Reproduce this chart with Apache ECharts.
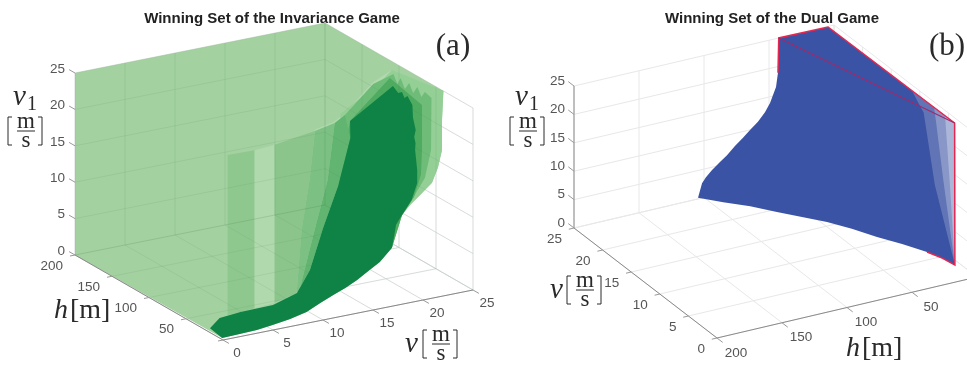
<!DOCTYPE html>
<html>
<head>
<meta charset="utf-8">
<style>html,body{margin:0;padding:0;background:#fff}#chart{width:967px;height:369px}</style>
<script src="https://cdn.jsdelivr.net/npm/echarts@6/dist/echarts.min.js"></script>
</head>
<body>
<div id="chart"></div>
<script>
// all points are [v, h, v1]
const vTicks = [0, 5, 10, 15, 20, 25]
const hTicks = [0, 50, 100, 150, 200]
const v1Ticks = [0, 5, 10, 15, 20, 25]

// (a) invariance game
const wallCurveA = [[25,40,25],[25,41.9,20.9],[25,41.9,16.8],[25,47.3,14.1],[25,55.4,11.5],[25,68.9,9.3],[25,85.1,6.7],[25,95.9,4.7],[25,104,2.9],[25,106.8,1],[24.4,101.6,0]]
const groundCurveA = [[21.7,81.3,0],[19.7,69.8,0],[17.7,57.9,0],[15.8,48.2,0],[14,40.1,0],[12,30.7,0],[9.8,19.5,0],[7.7,13.3,0],[5.6,8.7,0],[3.8,5.6,0],[2,4.5,0],[0.2,3.8,0]]
const backCornersA = [[0,200,0],[0,200,25],[25,200,25]]
const arcA = [[10.3,15,25],[12.8,22,25],[14.6,32.5,25],[20.7,76.8,25],[23.6,91.4,25]]
const darkEdgeA = [[0,17.6,0.6],[0.7,14,2],[2.1,4.8,3],[5.4,5.5,3],[7.8,5.4,4],[8.9,2.8,7],[10.6,8,12],[12.6,14.3,17],[15.8,41.4,21],[14.2,20.2,25],[21.9,66.3,25],[21.4,52.4,25],[21.8,52.7,25],[21.2,41.2,25],[21.7,44,25],[20.9,26.5,25],[22.1,41.9,22],[22.6,45,20],[21.6,33.5,20],[20.9,22.3,20],[22.8,48.5,17],[23.2,51.1,14],[23.4,53.8,12],[23.6,64,9],[25,95.9,4.7],[25,104,2.9],[25,106.8,1],[24.4,101.6,0]]
const stripe1A = [[1.2,10,24.5],[3.9,10,24.4],[3.9,10,2.7],[1.2,10,2.5]]
const stripeGapA = [[3.9,10,24.4],[5.9,10,24.6],[5.9,10,2.9],[3.9,10,2.7]]
const stripe2A = [[5.9,10,24.6],[10.3,15,25],[9.4,10,18.8],[8.6,10,12.2],[8.1,10,3.6],[5.9,10,2.9]]
const bandLeftA = [[10.3,15,25],[12.8,22,25],[11.2,10,18.3],[9.9,10,11.8],[8.4,10,4],[8.1,10,3.6],[8.6,10,12.2],[9.4,10,18.8]]
const bandNextA = [[12.8,22,25],[14.6,32.5,25],[15.8,41.4,21],[12.6,14.3,17],[10.6,8,12],[8.9,2.8,7],[7.8,5.4,4],[8.4,10,4],[9.9,10,11.8],[11.2,10,18.3]]
const bandOuterA = [[21.5,77.8,25],[23.9,94.6,25],...wallCurveA,[12.6,14.3,17],[14.4,36,25]]
const bandMidA = [[20.7,76.8,25],[23.5,87.3,25],[22.5,68.4,25],[23.5,77.5,25],[22.4,56.9,25],[23.5,66,25],[22.5,47.1,25],[23.6,56.2,25],[22.6,37.3,25],[23.5,44.7,25],[23.2,31.8,25],[24,43.2,17],[24,51.4,12.7],[24,69,8.6],[25,95.9,4.7],[24.4,101.6,0],[12.6,14.3,17],[14.6,32.5,25]]
const bandInnerA = [[22.7,81.3,25],[21.6,23,25],[24,55.4,16.3],[24,56.8,12.8],[24,66.2,9.2],[25,95.9,4.7],[24.4,101.6,0],[12.6,14.3,17],[14.2,20.2,25]]

// (b) dual game
const topB = [[25,42.5,25],[24.9,5,25],[3,4,25]]
const groundCurveB = [[3,3.8,0],[4.7,6.1,0],[6.4,10.3,0],[8.8,18.9,0],[11.05,28.3,0],[13.5,36.9,0],[15.7,46.3,0],[17.6,57.2,0],[19.5,68.1,0],[21.6,79.4,0],[23.4,92.2,0],[25,104.6,0.2]]
const wallCurveB = [[25,101.5,2.6],[25,98.5,3.5],[25,93.8,4.5],[25,87.7,5.6],[25,82.3,6.5],[25,76.2,7.8],[25,70,8.9],[25,64.6,10],[25,58.5,11.1],[25,53.1,12.5],[25,49.2,13.9],[25,44.6,16.5],[25,43.1,18.9]]
const fan1B = [[10.3,4.6,25],[3,4,25],[3,3.8,0],[5.9,6.5,12],[9,1.4,22]]
const fan2B = [[6.6,3.9,25],[3,4,25],[3,3.8,0],[5.5,1.2,12]]
const fan3B = [[4.8,3.5,25],[3,4,25],[3,3.8,0],[3.3,6.3,14]]
const redEdgeB = [[25,43.1,18.9],[25,42.5,25],[24.9,5,25],[3,4,25],[3,3.8,0],[4.7,6.1,0],[6.4,10.3,0]]
const redDiagB = [[25,42.5,25],[3,4,25]]

const projA = ([v, h, w]) => [223 + 10 * v - 0.74 * h, 340 - 2 * v - 0.425 * h - 7.28 * w]
const projB = ([v, h, w]) => [977 - 5.72 * v - 1.3 * h, 277 - 4.4 * v + 0.305 * h - 5.68 * w]

const base = { type: 'custom', coordinateSystem: 'cartesian2d', data: [0], silent: true, animation: false, clip: false }

function poly(proj, pts, fill) {
    return { ...base, renderItem: (p, api) => ({
        type: 'polygon',
        shape: { points: pts.map(q => api.coord(proj(q))) },
        style: { fill: fill }
    }) }
}

function lines(proj, list, color, lw) {
    return { ...base, renderItem: (p, api) => ({
        type: 'group',
        children: list.map(pts => ({
            type: 'polyline',
            shape: { points: pts.map(q => api.coord(proj(q))) },
            style: { fill: null, stroke: color, lineWidth: lw }
        }))
    }) }
}

function labels(proj, list, dx, dy, align) {
    return { ...base, renderItem: (p, api) => ({
        type: 'group',
        children: list.map(l => {
            const c = api.coord(proj(l.at))
            return { type: 'text', style: { text: String(l.text), x: c[0] + dx, y: c[1] + dy, align: align, verticalAlign: 'middle',
                font: '13.5px "Liberation Sans"', fill: '#555' } }
        })
    }) }
}

// box grids
const gridA = [
    ...v1Ticks.map(w => [[0,200,w],[25,200,w],[25,0,w]]),
    ...vTicks.map(v => [[v,200,25],[v,200,0],[v,0,0]]),
    ...hTicks.map(h => [[0,h,0],[25,h,0],[25,h,25]])
]
const gridB = [
    ...v1Ticks.map(w => [[0,0,w],[25,0,w],[25,200,w]]),
    ...vTicks.map(v => [[v,0,25],[v,0,0],[v,200,0]]),
    ...hTicks.map(h => [[0,h,0],[25,h,0],[25,h,25]])
]

// math labels, only layout here
const ink = '#2a2a2a'
const mtext = (x, y, text, size, italic, align) => ({ type: 'text', silent: true, style: { x, y, text, align: align || 'left', verticalAlign: 'middle',
    font: (italic ? 'italic ' : '') + size + 'px "Liberation Serif"', fill: ink } })
const mline = (pts) => ({ type: 'polyline', silent: true, shape: { points: pts }, style: { fill: null, stroke: ink, lineWidth: 1 } })
function frac(x, y) {
    return [
        mline([[x + 4, y], [x, y], [x, y + 28], [x + 4, y + 28]]),
        mtext(x + 18, y + 5, 'm', 23, false, 'center'),
        mline([[x + 9, y + 14], [x + 27, y + 14]]),
        mtext(x + 18, y + 24, 's', 23, false, 'center'),
        mline([[x + 30, y], [x + 34, y], [x + 34, y + 28], [x + 30, y + 28]])
    ]
}
const mathGraphic = [
    mtext(13, 97, 'v', 29, true), mtext(27, 105, '1', 20),
    ...frac(8, 117),
    mtext(54, 311, 'h', 28, true), mtext(70, 311, '[m]', 28),
    mtext(405, 344, 'v', 29, true), ...frac(423, 330),
    mtext(453, 47, '(a)', 31, false, 'center'),
    mtext(515, 97, 'v', 29, true), mtext(529, 105, '1', 20),
    ...frac(510, 117),
    mtext(550, 290, 'v', 29, true), ...frac(567, 276),
    mtext(846, 349, 'h', 28, true), mtext(862, 349, '[m]', 28),
    mtext(947, 47, '(b)', 31, false, 'center')
]

const green = { shell: '#a3d1a0', s1: '#8fc88f', gap: '#b0d9ad', s2: '#8bc58c', left: '#7cc183', next: '#62b570', outer: '#94cf96', mid: '#6fbc79', inner: '#4fab60', dark: '#0e8345' }

const series = [
    // panel a
    lines(projA, gridA, '#e9e9e9', 1),
    poly(projA, [...backCornersA, ...wallCurveA, ...groundCurveA], green.shell),
    lines(projA, [arcA], '#b0d9ad', 3),
    poly(projA, bandOuterA, green.outer),
    poly(projA, bandMidA, green.mid),
    poly(projA, bandInnerA, green.inner),
    poly(projA, stripe1A, green.s1),
    poly(projA, stripeGapA, green.gap),
    poly(projA, stripe2A, green.s2),
    poly(projA, bandLeftA, green.left),
    poly(projA, bandNextA, green.next),
    lines(projA, gridA, 'rgba(70,120,80,0.1)', 1),
    poly(projA, [...darkEdgeA, ...groundCurveA], green.dark),
    lines(projA, [[[0,200,0],[0,0,0],[25,0,0]]], '#8a8a8a', 1),
    lines(projA, [
        ...v1Ticks.map(w => [[0,208,w],[0,200,w]]),
        ...hTicks.map(h => [[-0.5,h,0],[0,h,0]]),
        ...vTicks.map(v => [[v,-8,0],[v,0,0]])
    ], '#999', 1),
    labels(projA, v1Ticks.map(w => ({ at: [0,200,w], text: w })), -10, -4, 'right'),
    labels(projA, hTicks.slice(1).map(h => ({ at: [0,h,0], text: h })), -12, 11, 'right'),
    labels(projA, vTicks.map(v => ({ at: [v,0,0], text: v })), 14, 13, 'center'),
    // panel b
    lines(projB, gridB, '#e8e8e8', 1),
    poly(projB, [...topB, ...groundCurveB, ...wallCurveB], '#3a53a4'),
    poly(projB, fan1B, 'rgba(255,255,255,0.2)'),
    poly(projB, fan2B, 'rgba(255,255,255,0.25)'),
    poly(projB, fan3B, 'rgba(255,255,255,0.3)'),
    lines(projB, [redEdgeB], '#e6264f', 1.5),
    lines(projB, [redDiagB], '#a02a6c', 1.2),
    lines(projB, [[[25,200,25],[25,200,0]], [[25,200,0],[0,200,0],[0,-8,0]]], '#8a8a8a', 1),
    lines(projB, [
        ...v1Ticks.map(w => [[26,200,w],[25,200,w]]),
        ...vTicks.map(v => [[v,204,0],[v,200,0]]),
        ...hTicks.slice(1).map(h => [[-1,h,0],[0,h,0]])
    ], '#999', 1),
    labels(projB, v1Ticks.map(w => ({ at: [25,200,w], text: w })), -9, -5, 'right'),
    labels(projB, vTicks.map(v => ({ at: [v,200,0], text: v })), -12, 11, 'right'),
    labels(projB, hTicks.slice(1).map(h => ({ at: [0,h,0], text: h })), 19, 15, 'center')
]

const titleStyle = { fontFamily: 'Liberation Sans', fontSize: 15, fontWeight: 'bold', color: '#222' }
const chart = echarts.init(document.getElementById('chart'), null, { renderer: 'canvas' })
chart.setOption({
    animation: false,
    backgroundColor: '#fff',
    title: [
        { text: 'Winning Set of the Invariance Game', left: 267, top: 6, textAlign: 'center', textStyle: titleStyle },
        { text: 'Winning Set of the Dual Game', left: 767, top: 6, textAlign: 'center', textStyle: titleStyle }
    ],
    grid: { left: 0, right: 0, top: 0, bottom: 0 },
    xAxis: { type: 'value', min: 0, max: 967, show: false },
    yAxis: { type: 'value', min: 0, max: 369, inverse: true, show: false },
    graphic: mathGraphic,
    series: series
})
</script>
</body>
</html>
